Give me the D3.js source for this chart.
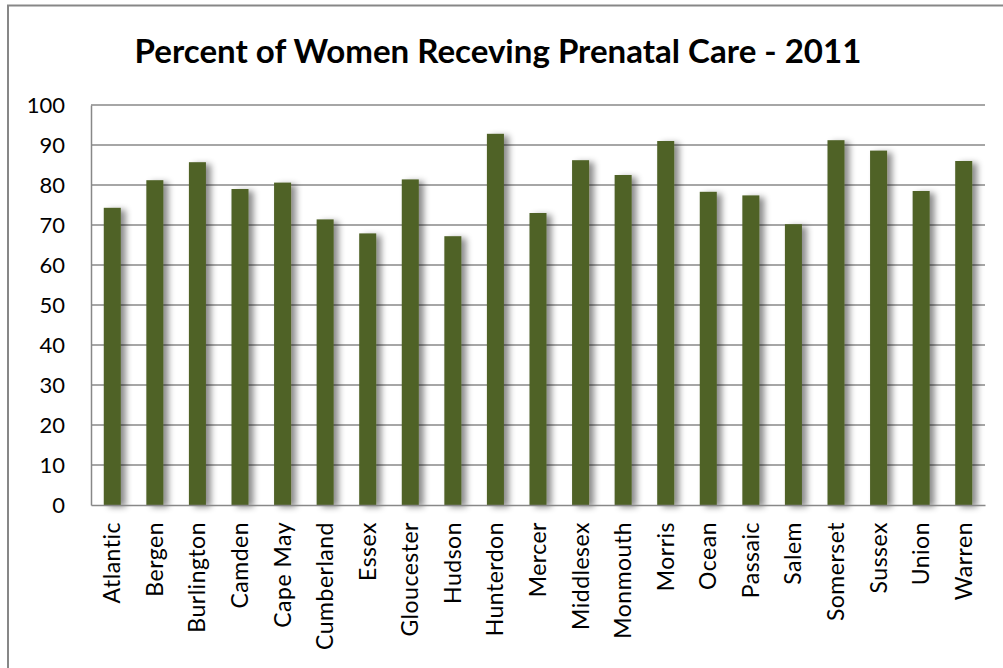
<!DOCTYPE html>
<html><head><meta charset="utf-8">
<script src="https://cdn.jsdelivr.net/npm/d3@7/dist/d3.min.js"></script>
<style>body{margin:0;background:#fff}svg{display:block}</style>
</head><body><svg id="c" width="1003" height="668"></svg>
<script>
const categories = ["Atlantic","Bergen","Burlington","Camden","Cape May","Cumberland","Essex","Gloucester","Hudson","Hunterdon","Mercer","Middlesex","Monmouth","Morris","Ocean","Passaic","Salem","Somerset","Sussex","Union","Warren"];
const values = [74.3,81.2,85.7,79.0,80.6,71.4,67.9,81.4,67.2,92.8,73.0,86.2,82.5,91.0,78.3,77.4,70.2,91.2,88.6,78.5,86.0];
const yTicks = [0,10,20,30,40,50,60,70,80,90,100];
const title = "Percent of Women Receving Prenatal Care - 2011";

const svg = d3.select("#c");
const font = "Lato, 'Open Sans', sans-serif";
const m = {left:91, right:985, top:105, bottom:505};

const defs = svg.append("defs");
const f = defs.append("filter").attr("id","sh").attr("x","-50%").attr("y","-10%").attr("width","250%").attr("height","130%");
f.append("feDropShadow").attr("dx",5).attr("dy",2).attr("stdDeviation",3).attr("flood-color","#000").attr("flood-opacity",0.45);

// outer border
svg.append("rect").attr("x",8).attr("y",5.5).attr("width",1010).attr("height",700)
  .attr("fill","none").attr("stroke","#878787").attr("stroke-width",2);

const x = d3.scaleBand().domain(categories).range([m.left,m.right]).paddingInner(0.6).paddingOuter(0.3);
const y = d3.scaleLinear().domain([0,100]).range([m.bottom,m.top]);

// gridlines
svg.append("g").selectAll("line").data(yTicks.filter(d=>d>0)).join("line")
  .attr("x1",m.left).attr("x2",m.right).attr("y1",d=>y(d)).attr("y2",d=>y(d))
  .attr("stroke","#888").attr("stroke-width",1.5);

// y axis
const ya = svg.append("g").attr("transform",`translate(${m.left},0)`)
  .call(d3.axisLeft(y).tickValues(yTicks).tickSize(0).tickPadding(26));
ya.select(".domain").attr("stroke","#888").attr("stroke-width",1.5);
ya.selectAll("text").attr("font-family",font).attr("font-size",22).attr("fill","#000");

// bars
svg.append("g").selectAll("rect").data(values).join("rect")
  .attr("x",(d,i)=>x(categories[i])).attr("width",x.bandwidth())
  .attr("y",d=>y(d)).attr("height",d=>y(0)-y(d))
  .attr("fill","#4F6228").attr("filter","url(#sh)");

// x axis
const xa = svg.append("g").attr("transform",`translate(0,${m.bottom})`)
  .call(d3.axisBottom(x).tickSize(0).tickPadding(0));
xa.select(".domain").attr("stroke","#888").attr("stroke-width",1.5);
xa.selectAll("text").attr("font-family",font).attr("font-size",23).attr("letter-spacing",0.5).attr("fill","#000")
  .attr("transform","rotate(-90)").attr("text-anchor","end").attr("dy","0.35em").attr("x",-17).attr("y",0);

// title
const t = svg.append("text").attr("x",498).attr("y",63).attr("text-anchor","middle")
  .attr("font-family",font).attr("font-weight","bold").attr("font-size",26).attr("fill","#000").text(title);
const w = t.node().getComputedTextLength();
t.attr("font-size", 26*727/w);
</script></body></html>
